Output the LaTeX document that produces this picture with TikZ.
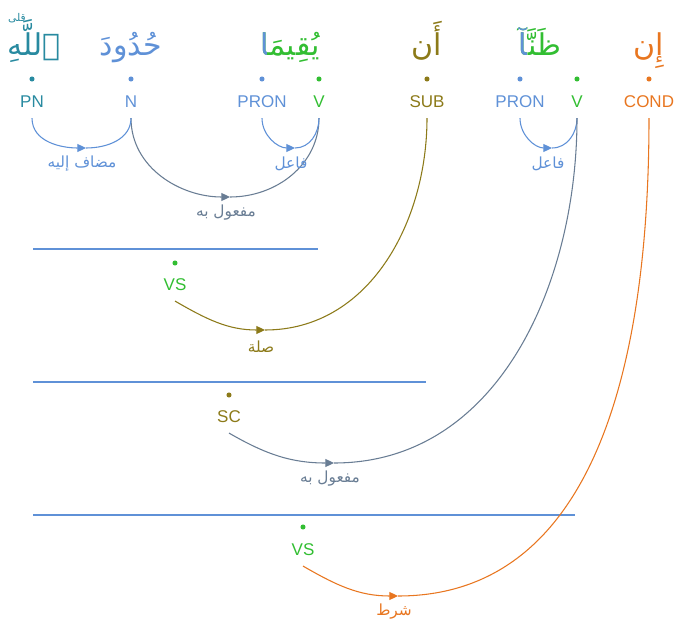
\documentclass[tikz,border=0pt]{standalone}
\usepackage{fontspec}
\setmainfont{Liberation Sans}
\newfontfamily\arabicfont[Script=Arabic]{DejaVu Sans}
\TeXXeTstate=1
\usetikzlibrary{arrows.meta}
\definecolor{corpteal}{RGB}{40,138,160}
\definecolor{corpblue}{RGB}{95,145,215}
\definecolor{corpgreen}{RGB}{50,190,50}
\definecolor{corpolive}{RGB}{140,122,25}
\definecolor{corporange}{RGB}{232,118,32}
\definecolor{corpslate}{RGB}{105,125,148}

\begin{document}
\begin{tikzpicture}[x=0.75pt,y=-0.75pt,
    word/.style={inner sep=0pt,anchor=base,font=\arabicfont\fontsize{22.5}{27}\selectfont},
    pause/.style={inner sep=0pt,font=\arabicfont\fontsize{8}{9}\selectfont},
    tag/.style={inner xsep=1pt,inner ysep=8pt,text height=9.2pt,text depth=0pt,font=\fontsize{12.75}{15}\selectfont},
    rel/.style={inner sep=1pt,font=\arabicfont\fontsize{11.5}{14}\selectfont},
    dep/.style={line width=0.8pt},
    deptip/.style={dep,-{Triangle[length=6.5pt,width=6pt]}},
    rule/.style={corpblue,line width=0.9pt}]
                    \useasboundingbox (0,0) rectangle (682,624);
                    \node[word,text=corpteal] (allah) at (34,56) {\beginR ٱللَّهِ\endR};
                    \node[pause,text=corpteal] (allahmark) at (17,18) {\beginR قلى\endR};
                    \node[word,text=corpblue] (hudud) at (131,56) {\beginR حُدُودَ\endR};
                    \node[word,text=corpgreen] (yuqima) at (290,56) {\beginR يُقِيمَا\endR};
                    \begin{scope}
                        \clip (yuqima.north west) rectangle ([xshift=5pt]yuqima.south west);
                        \node[word,text=corpblue] at (290,56) {\beginR يُقِيمَا\endR};
                    \end{scope}
                    \node[word,text=corpolive] (an) at (427,56) {\beginR أَن\endR};
                    \node[word,text=corpgreen] (zanna) at (540,56) {\beginR ظَنَّآ\endR};
                    \begin{scope}
                        \clip (zanna.north west) rectangle ([xshift=5.5pt]zanna.south west);
                        \node[word,text=corpblue] at (540,56) {\beginR ظَنَّآ\endR};
                    \end{scope}
                    \node[word,text=corporange] (in) at (649,56) {\beginR إِن\endR};
                    \fill[corpteal] (32,79) circle (1.9pt);
                    \fill[corpblue] (131,79) circle (1.9pt);
                    \fill[corpblue] (262,79) circle (1.9pt);
                    \fill[corpgreen] (319,79) circle (1.9pt);
                    \fill[corpolive] (427,79) circle (1.9pt);
                    \fill[corpblue] (520,79) circle (1.9pt);
                    \fill[corpgreen] (577,79) circle (1.9pt);
                    \fill[corporange] (649,79) circle (1.9pt);
                    \fill[corpgreen] (175,263) circle (1.9pt);
                    \fill[corpolive] (229,395) circle (1.9pt);
                    \fill[corpgreen] (303,527) circle (1.9pt);
                    \node[tag,text=corpteal] (pn) at (32,101) {PN};
                    \node[tag,text=corpblue] (n) at (131,101) {N};
                    \node[tag,text=corpblue] (pron1) at (262,101) {PRON};
                    \node[tag,text=corpgreen] (v1) at (319,101) {V};
                    \node[tag,text=corpolive] (sub) at (427,101) {SUB};
                    \node[tag,text=corpblue] (pron2) at (520,101) {PRON};
                    \node[tag,text=corpgreen] (v2) at (577,101) {V};
                    \node[tag,text=corporange] (cond) at (649,101) {COND};
                    \node[tag,text=corpgreen] (vs1) at (175,284) {VS};
                    \node[tag,text=corpolive] (sc) at (229,416) {SC};
                    \node[tag,text=corpgreen] (vs2) at (303,549) {VS};
                    \draw[rule] (33,249) -- (318,249);
                    \draw[rule] (33,382) -- (426,382);
                    \draw[rule] (33,515) -- (575,515);
                    \coordinate (a1) at (86,148);
                    \coordinate (a2) at (230,197);
                    \coordinate (a3) at (295,148);
                    \coordinate (a4) at (552,148);
                    \coordinate (a6) at (265,330);
                    \coordinate (a8) at (334,463);
                    \coordinate (a10) at (398,596);
                    \draw[deptip,corpslate] (n.south) to[out=-90,in=180] (a2);
                    \draw[dep,corpslate] (a2) to[out=0,in=-90] (v1.south);
                    \draw[deptip,corpblue] (pn.south) to[out=-90,in=180] (a1);
                    \draw[dep,corpblue] (a1) to[out=0,in=-90] (n.south);
                    \draw[deptip,corpblue] (pron1.south) to[out=-90,in=180] (a3);
                    \draw[dep,corpblue] (a3) to[out=0,in=-90] (v1.south);
                    \draw[deptip,corpblue] (pron2.south) to[out=-90,in=180] (a4);
                    \draw[dep,corpblue] (a4) to[out=0,in=-90] (v2.south);
                    \draw[deptip,corpolive] (vs1.south) to[out=-30,in=180] (a6);
                    \draw[dep,corpolive] (a6) to[out=0,in=-90] (sub.south);
                    \draw[deptip,corpslate] (sc.south) to[out=-30,in=180] (a8);
                    \draw[dep,corpslate] (a8) to[out=0,in=-90] (v2.south);
                    \draw[deptip,corporange] (vs2.south) to[out=-30,in=180] (a10);
                    \draw[dep,corporange] (a10) to[out=0,in=-90] (cond.south);
                    \node[rel,text=corpblue] (l1) at (82,164) {\beginR مضاف إليه\endR};
                    \node[rel,text=corpslate] (l2) at (226,213) {\beginR مفعول به\endR};
                    \node[rel,text=corpblue] (l3) at (291,164) {\beginR فاعل\endR};
                    \node[rel,text=corpblue] (l4) at (548,164) {\beginR فاعل\endR};
                    \node[rel,text=corpolive] (l6) at (261,347) {\beginR صلة\endR};
                    \node[rel,text=corpslate] (l8) at (330,479) {\beginR مفعول به\endR};
                    \node[rel,text=corporange] (l10) at (394,612) {\beginR شرط\endR};
                \end{tikzpicture}
\end{document}
